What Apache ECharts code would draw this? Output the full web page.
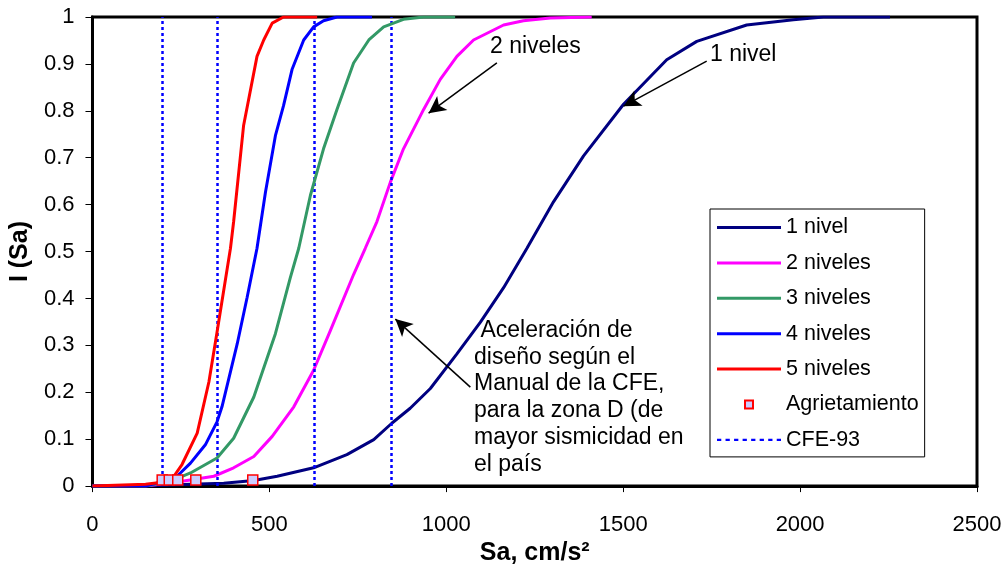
<!DOCTYPE html>
<html><head><meta charset="utf-8">
<script src="https://cdn.jsdelivr.net/npm/echarts@6/dist/echarts.min.js"></script>
<style>html,body{margin:0;padding:0;background:#fff}#c{width:1008px;height:571px}</style>
</head><body><div id="c"></div>
<script>
// ---- data ----
const xTicks = [0, 500, 1000, 1500, 2000, 2500];
const yTicks = [0, 0.1, 0.2, 0.3, 0.4, 0.5, 0.6, 0.7, 0.8, 0.9, 1];

const sa1 = [0, 150, 277, 371, 456, 522, 625, 719, 795, 846, 898, 955, 1030, 1096, 1162, 1228, 1303, 1388, 1501, 1623, 1708, 1849, 1981, 2066, 2254];
const i1  = [0, 0, 0.004, 0.006, 0.012, 0.021, 0.039, 0.067, 0.099, 0.134, 0.166, 0.208, 0.282, 0.349, 0.423, 0.507, 0.606, 0.704, 0.814, 0.909, 0.948, 0.983, 0.994, 1.0, 1.0];

const sa2 = [0, 150, 249, 343, 399, 456, 508, 569, 625, 672, 738, 771, 804, 842, 879, 936, 983, 1030, 1077, 1162, 1218, 1294, 1411];
const i2  = [0, 0, 0.01, 0.021, 0.039, 0.063, 0.106, 0.169, 0.247, 0.331, 0.451, 0.507, 0.564, 0.648, 0.719, 0.803, 0.867, 0.916, 0.951, 0.983, 0.992, 0.998, 1.0];

const sa3 = [0, 150, 220, 277, 352, 399, 456, 517, 559, 583, 616, 653, 691, 738, 781, 823, 879, 936, 1025];
const i3  = [0, 0, 0.01, 0.028, 0.06, 0.102, 0.19, 0.325, 0.444, 0.507, 0.62, 0.719, 0.803, 0.902, 0.951, 0.979, 0.995, 1.0, 1.0];

const sa4 = [0, 150, 200, 239, 277, 319, 352, 366, 409, 437, 465, 489, 517, 540, 564, 597, 625, 653, 691, 790];
const i4  = [0, 0, 0.01, 0.021, 0.049, 0.088, 0.137, 0.169, 0.303, 0.402, 0.507, 0.627, 0.747, 0.811, 0.888, 0.951, 0.979, 0.992, 1.0, 1.0];

const sa5 = [0, 150, 197, 230, 253, 296, 329, 352, 390, 399, 427, 465, 484, 508, 540, 635];
const i5  = [0, 0.004, 0.008, 0.021, 0.046, 0.113, 0.222, 0.328, 0.507, 0.564, 0.768, 0.916, 0.951, 0.987, 1.0, 1.0];

const crackSa = [197, 217, 241, 292, 453];
const crackI  = [0.013, 0.013, 0.013, 0.013, 0.013];

const cfe93Sa = [198, 353, 627, 845];

const seriesNames = ['1 nivel', '2 niveles', '3 niveles', '4 niveles', '5 niveles', 'Agrietamiento', 'CFE-93'];

// annotation arrows (tail -> head) in data coordinates
const arrowTails = [[1143, 0.902], [1736, 0.906], [1068, 0.211]];
const arrowHeads = [[950, 0.795], [1501, 0.810], [856, 0.356]];

const noteTexts = ['2 niveles', '1 nivel', ' Aceleración de\ndiseño según el\nManual de la CFE,\npara la zona D (de\nmayor sismicidad en\nel país'];

// ---- build ----
const FONT = '"Liberation Sans", Arial, sans-serif';
const zip = (xs, ys) => xs.map((x, i) => [x, ys[i]]);
const colors = ['#000080', '#ff00ff', '#339966', '#0000ff', '#ff0000'];
const curves = [[sa1, i1], [sa2, i2], [sa3, i3], [sa4, i4], [sa5, i5]];

const lineIcon = 'path://M0,0H64V3H0Z';
let dashIcon = 'path://';
for (let k = 0; k < 8; k++) dashIcon += 'M' + (k * 8) + ',0h4v2h-4z';

const series = curves.map((c, k) => ({
  name: seriesNames[k], type: 'line', data: zip(c[0], c[1]),
  symbol: 'none', color: colors[k], z: 3 + k,
  lineStyle: { width: 3, color: colors[k] },
  emphasis: { disabled: true }, silent: true
}));

series.push({
  name: seriesNames[5], type: 'line', data: zip(crackSa, crackI),
  symbol: 'rect', symbolSize: 10, showSymbol: true, z: 10,
  color: '#ccccff',
  itemStyle: { color: '#ccccff', borderColor: '#ff0000', borderWidth: 1.5 },
  lineStyle: { width: 0, color: 'transparent' },
  emphasis: { disabled: true }, silent: true
});

series.push({
  name: seriesNames[6], type: 'line', data: [], symbol: 'none', color: '#0000ff', z: 2,
  lineStyle: { width: 2, color: '#0000ff', type: [3, 3] },
  markLine: {
    silent: true, symbol: ['none', 'none'], label: { show: false },
    lineStyle: { color: '#0000ff', width: 2.5, type: [3, 3] },
    emphasis: { disabled: true },
    data: cfe93Sa.map(v => ({ xAxis: v }))
  }
});

series.push({
  name: 'notes', type: 'line', data: [], symbol: 'none', z: 12, silent: true,
  markLine: {
    silent: true, symbol: ['none', 'arrow'], symbolSize: [13, 17],
    label: { show: false }, emphasis: { disabled: true },
    lineStyle: { color: '#000', width: 1.5, type: 'solid' },
    itemStyle: { color: '#000' },
    data: arrowTails.map((t, k) => [{ coord: t }, { coord: arrowHeads[k] }])
  }
});

const legendData = seriesNames.map((n, k) => {
  if (k < 5) return { name: n, icon: lineIcon, itemStyle: { borderWidth: 0 } };
  if (k === 6) return { name: n, icon: dashIcon, itemStyle: { borderWidth: 0 } };
  return { name: n };
});

const option = {
  animation: false,
  backgroundColor: '#fff',
  grid: { left: 92, right: 31, top: 17, bottom: 81, show: true, borderColor: '#000', borderWidth: 3, backgroundColor: 'transparent' },
  xAxis: {
    type: 'value', min: xTicks[0], max: xTicks[xTicks.length - 1], interval: xTicks[1] - xTicks[0],
    name: 'Sa, cm/s²', nameLocation: 'middle', nameGap: 48,
    nameTextStyle: { fontFamily: FONT, fontSize: 25, fontWeight: 'bold', color: '#000' },
    axisLine: { show: true, onZero: false, lineStyle: { color: '#000', width: 3 } },
    axisTick: { show: true, inside: false, length: 6, lineStyle: { color: '#000', width: 1 } },
    axisLabel: { fontFamily: FONT, fontSize: 22, color: '#000', margin: 28, showMinLabel: true, showMaxLabel: true, hideOverlap: false,
      formatter: v => String(Math.round(v)) },
    splitLine: { show: false }
  },
  yAxis: {
    type: 'value', min: yTicks[0], max: yTicks[yTicks.length - 1], interval: 0.1,
    name: 'I (Sa)', nameLocation: 'middle', nameGap: 45, nameRotate: 90,
    nameTextStyle: { fontFamily: FONT, fontSize: 25, fontWeight: 'bold', color: '#000' },
    axisLine: { show: true, lineStyle: { color: '#000', width: 3 } },
    axisTick: { show: true, inside: false, length: 7, lineStyle: { color: '#000', width: 1 } },
    axisLabel: {
      fontFamily: FONT, fontSize: 22, color: '#000', margin: 18, showMinLabel: true, showMaxLabel: true, hideOverlap: false,
      formatter: v => (Math.abs(v) < 1e-9 ? '0' : Math.abs(v - 1) < 1e-9 ? '1' : v.toFixed(1))
    },
    splitLine: { show: false }
  },
  legend: {
    show: true, orient: 'vertical', left: 710, top: 209,
    padding: [7.5, 6, 6, 7], itemGap: 13.4, itemWidth: 64, itemHeight: 10,
    backgroundColor: '#fff', borderColor: '#000', borderWidth: 1,
    selectedMode: false,
    textStyle: { fontFamily: FONT, fontSize: 21.5, lineHeight: 21, color: '#000' },
    data: legendData
  },
  graphic: [
    { type: 'text', left: 490, top: 35, z: 20, style: { text: noteTexts[0], font: '23px ' + FONT, fill: '#000' } },
    { type: 'text', left: 710, top: 43, z: 20, style: { text: noteTexts[1], font: '23px ' + FONT, fill: '#000' } },
    { type: 'text', left: 474, top: 317, z: 20, style: { text: noteTexts[2], font: '23px ' + FONT, fill: '#000', lineHeight: 26.8 } }
  ],
  series: series
};

const chart = echarts.init(document.getElementById('c'), null, { renderer: 'canvas' });
chart.setOption(option);
</script>
</body></html>
